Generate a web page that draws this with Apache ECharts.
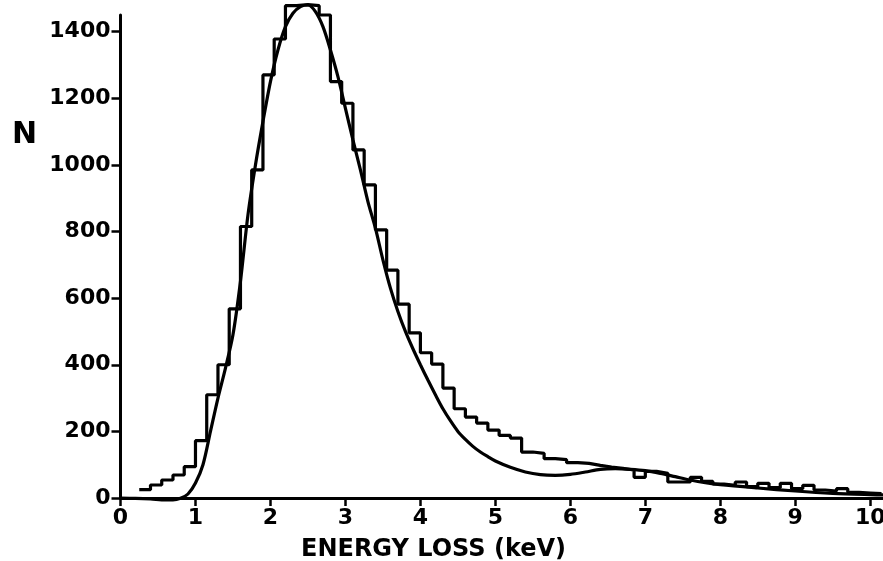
<!DOCTYPE html>
<html>
<head>
<meta charset="utf-8">
<script src="https://cdn.jsdelivr.net/npm/echarts@6/dist/echarts.min.js"></script>
<style>
  html, body { margin: 0; padding: 0; background: #fff; }
  #chart { width: 883px; height: 561px; }
</style>
</head>
<body>
<div id="chart"></div>
<script>
// ---- data ----
const binStart = 0.25;      // keV, left edge of first histogram bin
const binWidth = 0.15;      // keV
const histCounts = [
  25, 39, 54, 69, 94, 172, 310, 400, 568, 815,
  985, 1270, 1378, 1478, 1481, 1478, 1450, 1250, 1185, 1045,
  940, 805, 684, 582, 496, 436, 402, 330, 268, 243,
  225, 204, 188, 180, 138, 134, 118, 115, 106, 104,
  98, 93, 89, 84, 62, 80, 74, 48, 48, 62,
  50, 42, 38, 48, 34, 44, 31, 44, 28, 38,
  24, 21, 28, 17, 15, 13
];
const curveX = [0, 0.2, 0.4, 0.6, 0.7, 0.8, 0.9, 1.0, 1.1, 1.2, 1.3, 1.4, 1.5, 1.6, 1.7, 1.8, 1.9,
  2.0, 2.1, 2.2, 2.3, 2.4, 2.5, 2.6, 2.7, 2.8, 2.9, 3.0, 3.1, 3.2, 3.3, 3.4, 3.5, 3.6, 3.7, 3.8, 3.9,
  4.0, 4.1, 4.2, 4.3, 4.4, 4.5, 4.6, 4.7, 4.8, 4.9, 5.0, 5.2, 5.4, 5.6, 5.8, 6.0, 6.2, 6.4, 6.6, 6.8,
  7.0, 7.2, 7.4, 7.6, 7.8, 8.0, 8.5, 9.0, 9.5, 10.0, 10.2];
const curveN = [0, -1, -3, -6, -6, -1, 12, 45, 100, 200, 300, 390, 490, 650, 850, 1000, 1130,
  1250, 1345, 1415, 1455, 1475, 1480, 1460, 1415, 1345, 1265, 1170, 1075, 985, 890, 810, 715, 630, 560, 500, 448,
  400, 354, 310, 268, 232, 200, 176, 155, 138, 124, 111, 92, 78, 70, 68, 71, 78, 86, 88, 86,
  82, 74, 64, 54, 46, 40, 30, 21, 14, 10, 9];
const xTicks = [0, 1, 2, 3, 4, 5, 6, 7, 8, 9, 10];
const yTicks = [0, 200, 400, 600, 800, 1000, 1200, 1400];
const xTitle = 'ENERGY LOSS (keV)';
const yTitle = 'N';

// ---- build series points ----
const histPoints = histCounts.map((v, i) => [binStart + binWidth * i, v]);
histPoints.push([binStart + binWidth * histCounts.length, histCounts[histCounts.length - 1]]);
const curvePoints = curveX.map((x, i) => [x, curveN[i]]);

const FONT = 'DejaVu Sans';
const chart = echarts.init(document.getElementById('chart'), null, { renderer: 'canvas' });
chart.setOption({
  animation: false,
  backgroundColor: '#ffffff',
  grid: { left: 120.5, right: 0, top: 15, bottom: 63, containLabel: false, outerBoundsMode: 'none' },
  xAxis: {
    type: 'value', min: 0, max: 10.17,
    axisLine: { show: true, onZero: false, lineStyle: { color: '#000', width: 3 } },
    axisTick: { show: true, inside: false, length: 8, lineStyle: { color: '#000', width: 2.5 }, customValues: xTicks },
    axisLabel: { show: true, margin: 9, color: '#000', fontFamily: FONT, fontWeight: 'bold', fontSize: 22,
      customValues: xTicks, formatter: v => String(v) },
    splitLine: { show: false }
  },
  yAxis: {
    type: 'value', min: 0, max: 1450,
    axisLine: { show: true, onZero: false, lineStyle: { color: '#000', width: 3 } },
    axisTick: { show: true, inside: false, length: 9, lineStyle: { color: '#000', width: 2.5 }, customValues: yTicks },
    axisLabel: { show: true, margin: 10, color: '#000', fontFamily: FONT, fontWeight: 'bold', fontSize: 22,
      customValues: yTicks, formatter: v => String(v) },
    splitLine: { show: false }
  },
  graphic: [
    { type: 'text', left: 12, top: 120, style: { text: yTitle, fill: '#000', font: 'bold 30px "DejaVu Sans"' } },
    { type: 'text', left: 301, top: 538, style: { text: xTitle, fill: '#000', font: 'bold 24px "DejaVu Sans"' } }
  ],
  series: [
    {
      name: 'histogram', type: 'line', step: 'end', data: histPoints,
      showSymbol: false, clip: false,
      lineStyle: { color: '#000', width: 3.2 }
    },
    {
      name: 'curve', type: 'line', data: curvePoints, smooth: 0.3,
      showSymbol: false, clip: false,
      lineStyle: { color: '#000', width: 3.2 }
    }
  ]
});
</script>
</body>
</html>
